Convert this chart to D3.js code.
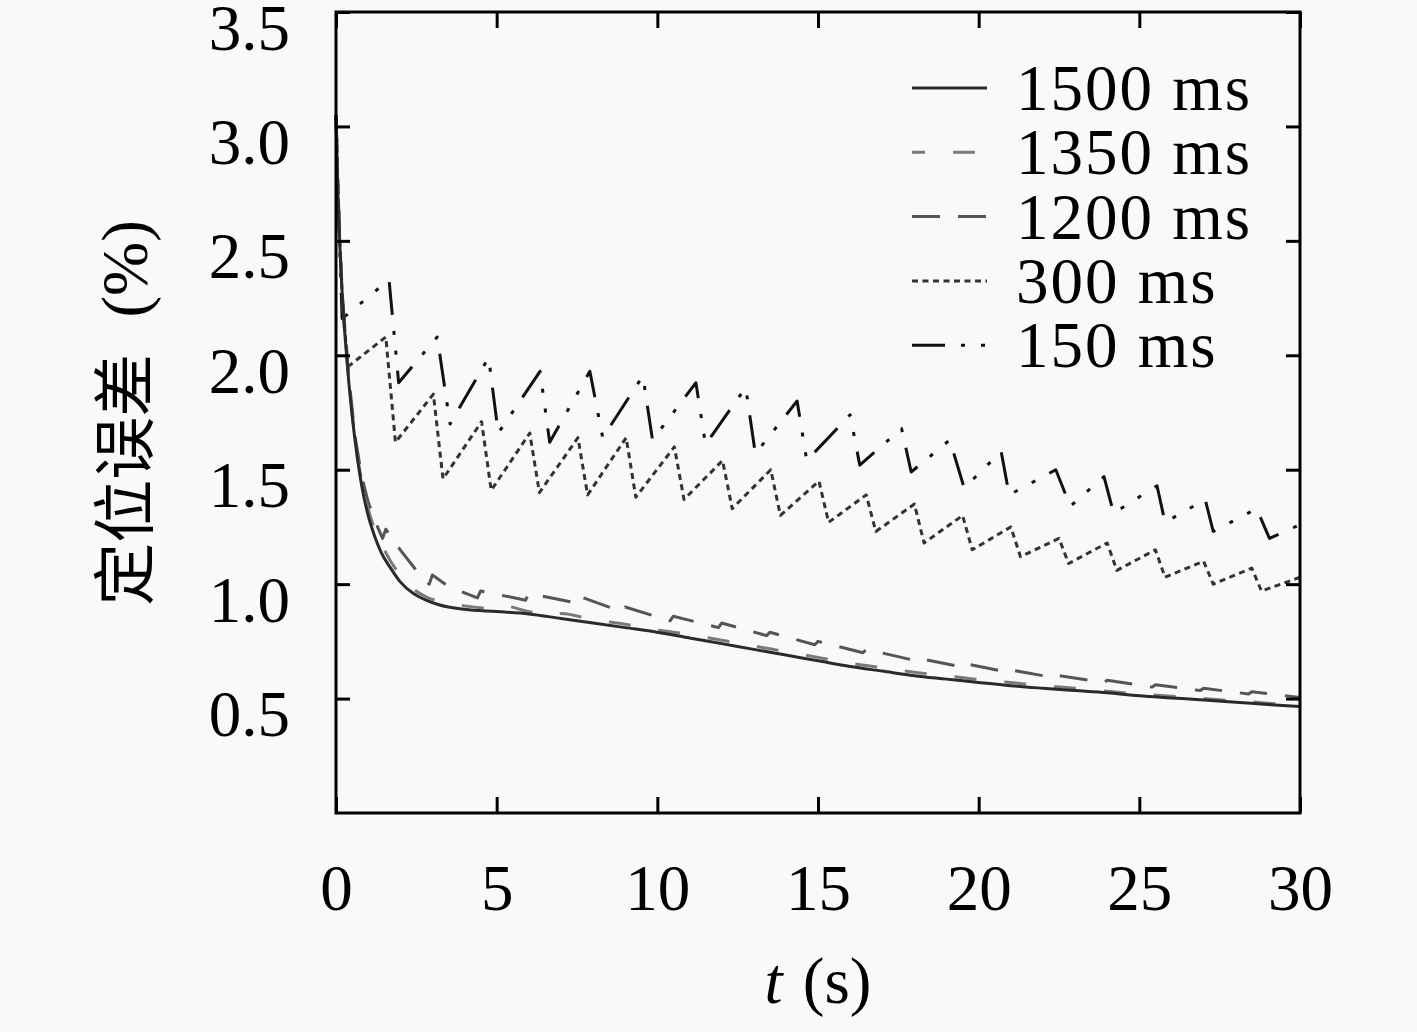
<!DOCTYPE html>
<html>
<head>
<meta charset="utf-8">
<script src="https://cdn.jsdelivr.net/npm/d3@7"></script>
<style>
  body { margin: 0; background: #f9f9f9; }
  svg { display: block; }
</style>
</head>
<body>
<div id="chart-area"></div>
<script>
// ---- data: [t (s), error (%)] ----
var series1500 = [
  [0, 3.05], [0.05, 2.75], [0.1, 2.55], [0.2, 2.25], [0.3, 2.05], [0.4, 1.88],
  [0.5, 1.74], [0.6, 1.62], [0.8, 1.43], [1.0, 1.30], [1.2, 1.21], [1.4, 1.14],
  [1.7, 1.07], [2.0, 1.01], [2.4, 0.96], [2.8, 0.93], [3.2, 0.91], [4, 0.89],
  [5, 0.88], [6, 0.87], [7, 0.85], [8, 0.83], [9, 0.81], [10, 0.79], [11, 0.765],
  [12, 0.74], [13, 0.715], [14, 0.69], [15, 0.665], [16, 0.64], [17, 0.62],
  [18, 0.60], [19, 0.585], [20, 0.57], [21, 0.556], [22, 0.545], [23, 0.535],
  [24, 0.525], [25, 0.512], [26, 0.503], [27, 0.494], [28, 0.484], [29, 0.474],
  [30, 0.465]
];

var series1350 = [
  [0, 3.05], [0.05, 2.75], [0.1, 2.55], [0.2, 2.25], [0.4, 1.89], [0.6, 1.63],
  [0.8, 1.45], [1.0, 1.33], [1.2, 1.24], [1.4, 1.18], [1.7, 1.10], [2.0, 1.04],
  [2.4, 0.98], [2.8, 0.945], [3.2, 0.925], [4, 0.905], [5, 0.893], [5.2, 0.905],
  [6, 0.88], [6.8, 0.862], [7, 0.872], [8, 0.845], [9, 0.825], [10, 0.80],
  [11, 0.78], [12, 0.755], [13, 0.73], [14, 0.705], [15, 0.68], [16, 0.655],
  [17, 0.635], [18, 0.615], [19, 0.60], [20, 0.583], [21, 0.57], [22, 0.556],
  [23, 0.545], [24, 0.532], [25, 0.52], [26, 0.51], [27, 0.50], [28, 0.49],
  [29, 0.48], [30, 0.47]
];

var series1200 = [
  [0, 3.05], [0.05, 2.76], [0.1, 2.56], [0.2, 2.26], [0.4, 1.90], [0.6, 1.64],
  [0.8, 1.47], [1.0, 1.36], [1.2, 1.28], [1.45, 1.20], [1.55, 1.24], [2.0, 1.15],
  [2.5, 1.06], [2.9, 1.00], [3.0, 1.04], [3.5, 0.99], [4.4, 0.94], [4.5, 0.97],
  [5.9, 0.93], [6.0, 0.96], [7.4, 0.92], [7.5, 0.95], [8.9, 0.88], [9.0, 0.90],
  [10.4, 0.84], [10.5, 0.86], [11.9, 0.81], [12.0, 0.83], [13.4, 0.775], [13.5, 0.79],
  [14.9, 0.735], [15.0, 0.75], [16.4, 0.70], [16.5, 0.715], [17.9, 0.67], [18.0, 0.68],
  [19.4, 0.64], [19.5, 0.655], [20.9, 0.615], [21.0, 0.625], [22.4, 0.59], [22.5, 0.60],
  [23.9, 0.57], [24.0, 0.58], [25.4, 0.55], [25.5, 0.56], [26.9, 0.535], [27.0, 0.545],
  [28.4, 0.52], [28.5, 0.53], [30, 0.505]
];

var series300 = [
  [0, 3.05], [0.1, 2.55], [0.2, 2.24], [0.37, 1.95],
  [1.55, 2.08], [1.85, 1.62], [3.03, 1.83], [3.33, 1.46],
  [4.53, 1.71], [4.83, 1.41], [6.03, 1.66], [6.33, 1.40],
  [7.53, 1.64], [7.83, 1.39], [9.03, 1.64], [9.33, 1.38],
  [10.53, 1.60], [10.83, 1.37], [12.03, 1.54], [12.33, 1.33],
  [13.53, 1.50], [13.83, 1.30], [15.03, 1.45], [15.33, 1.27],
  [16.5, 1.39], [16.8, 1.23], [18.0, 1.35], [18.3, 1.18],
  [19.5, 1.30], [19.8, 1.15], [21.0, 1.25], [21.3, 1.12],
  [22.5, 1.20], [22.8, 1.09], [24.0, 1.18], [24.3, 1.06],
  [25.5, 1.15], [25.8, 1.03], [27.0, 1.10], [27.3, 1.00],
  [28.5, 1.07], [28.8, 0.97], [30, 1.03]
];

var series150 = [
  [0, 3.05], [0.1, 2.55], [0.19, 2.16],
  [1.65, 2.33], [1.95, 1.88], [3.15, 2.08], [3.55, 1.70],
  [4.75, 1.99], [5.05, 1.66], [6.35, 1.93], [6.65, 1.62],
  [7.9, 1.93], [8.3, 1.64], [9.55, 1.91], [9.85, 1.63],
  [11.2, 1.88], [11.5, 1.61], [12.75, 1.86], [13.05, 1.57],
  [14.35, 1.80], [14.65, 1.54], [16.0, 1.74], [16.3, 1.52],
  [17.6, 1.68], [17.9, 1.49], [19.1, 1.63], [19.55, 1.42],
  [20.7, 1.58], [20.95, 1.39], [22.4, 1.50], [22.85, 1.34],
  [23.9, 1.47], [24.2, 1.31], [25.55, 1.43], [25.8, 1.27],
  [27.05, 1.37], [27.3, 1.23], [28.65, 1.33], [29.05, 1.20],
  [30, 1.26]
];

var seriesNames = ['1500 ms', '1350 ms', '1200 ms', '300 ms', '150 ms'];
var xTicks = [0, 5, 10, 15, 20, 25, 30];
var yTicks = [0.5, 1.0, 1.5, 2.0, 2.5, 3.0, 3.5];

// ---- layout ----
var margin = { left: 336, right: 117, top: 12, bottom: 219 };
var W = 1417, H = 1032;
var width = W - margin.left - margin.right;
var height = H - margin.top - margin.bottom;

var serif = '"Liberation Serif", "Times New Roman", serif';
var fs = 65;

var styles = [
  { data: series1500, color: '#2a2a2a', dash: null, offset: 0, smooth: true },
  { data: series1350, color: '#7a7a7a', dash: '22,28', offset: 9, smooth: true },
  { data: series1200, color: '#555555', dash: '28,18', offset: 0, smooth: false },
  { data: series300, color: '#333333', dash: '6,4.5', offset: 0, smooth: false },
  { data: series150, color: '#111111', dash: '33,16,4,16,4,16', offset: 0, smooth: false }
];

var svg = d3.select('#chart-area')
  .append('svg')
  .attr('width', W)
  .attr('height', H);

svg.append('rect')
  .attr('width', W)
  .attr('height', H)
  .attr('fill', '#f9f9f9');

var g = svg.append('g')
  .attr('transform', 'translate(' + margin.left + ', ' + margin.top + ')');

// Scales
var x = d3.scaleLinear().domain([0, 30]).range([0, width]);
var y = d3.scaleLinear().domain([0, 3.5]).range([height, 0]);

// Lines
var lineLinear = d3.line()
  .x(function(d) { return x(d[0]); })
  .y(function(d) { return y(d[1]); });

var lineSmooth = d3.line()
  .curve(d3.curveMonotoneX)
  .x(function(d) { return x(d[0]); })
  .y(function(d) { return y(d[1]); });

// draw the wavy ones first, solid last on top
[4, 3, 2, 1, 0].forEach(function(i) {
  var s = styles[i];
  g.append('path')
    .datum(s.data)
    .attr('fill', 'none')
    .attr('stroke', s.color)
    .attr('stroke-width', 3)
    .attr('stroke-linejoin', 'round')
    .attr('stroke-dasharray', s.dash)
    .attr('stroke-dashoffset', s.offset)
    .attr('d', s.smooth ? lineSmooth : lineLinear);
});

// Axes (ticks point inward, mirrored on top and right)
function styleAxis(sel) {
  sel.select('.domain').remove();
  sel.selectAll('line').attr('stroke', '#000').attr('stroke-width', 3);
  sel.selectAll('text')
    .attr('font-family', serif)
    .attr('font-size', fs)
    .attr('fill', '#000');
}

var yAxis = g.append('g')
  .call(d3.axisLeft(y).tickValues(yTicks).tickSizeInner(-14).tickSizeOuter(0)
    .tickPadding(46).tickFormat(d3.format('.1f')))
  .call(styleAxis);
yAxis.selectAll('text').attr('dy', 37);

g.append('g')
  .attr('transform', 'translate(' + width + ', 0)')
  .call(d3.axisRight(y).tickValues(yTicks).tickSizeInner(-14).tickSizeOuter(0)
    .tickFormat(''))
  .call(styleAxis);

var xAxis = g.append('g')
  .attr('transform', 'translate(0, ' + height + ')')
  .call(d3.axisBottom(x).tickValues(xTicks).tickSizeInner(-16).tickSizeOuter(0))
  .call(styleAxis);
xAxis.selectAll('text').attr('y', 97).attr('dy', 0);

g.append('g')
  .call(d3.axisTop(x).tickValues(xTicks).tickSizeInner(-16).tickSizeOuter(0)
    .tickFormat(''))
  .call(styleAxis);

// Frame
g.append('rect')
  .attr('width', width)
  .attr('height', height)
  .attr('fill', 'none')
  .attr('stroke', '#000')
  .attr('stroke-width', 3);

// X Label
var xLabel = svg.append('text')
  .attr('x', 818)
  .attr('y', 1003)
  .attr('text-anchor', 'middle')
  .attr('font-family', serif)
  .attr('font-size', fs);
xLabel.append('tspan').attr('font-style', 'italic').text('t');
xLabel.append('tspan').attr('dx', 4).text(' (s)');

// Y Label
var yLabel = svg.append('text')
  .attr('transform', 'translate(147, 413) rotate(-90)')
  .attr('text-anchor', 'middle')
  .attr('font-family', serif)
  .attr('font-size', fs);
yLabel.append('tspan')
  .attr('font-family', '"Noto Sans CJK SC", sans-serif')
  .attr('font-size', 63)
  .text('定位误差');
yLabel.append('tspan').attr('dx', 20).text(' (%)');

// Legend
var legend = svg.append('g').attr('transform', 'translate(912, 88)');
seriesNames.forEach(function(name, i) {
  var s = styles[i];
  var row = legend.append('g').attr('transform', 'translate(0, ' + (i * 64.3) + ')');
  row.append('line')
    .attr('x1', 0).attr('x2', 75)
    .attr('stroke', s.color)
    .attr('stroke-width', 3)
    .attr('stroke-dasharray', s.dash)
    .attr('stroke-dashoffset', s.offset);
  row.append('text')
    .attr('x', 104)
    .attr('y', 22)
    .attr('font-family', serif)
    .attr('font-size', fs)
    .attr('letter-spacing', 2)
    .text(name);
});
</script>
</body>
</html>
